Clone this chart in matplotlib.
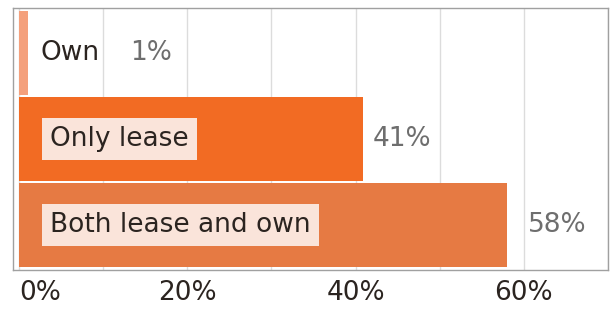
import matplotlib
matplotlib.use("Agg")
import matplotlib.pyplot as plt

# Data
categories = ["Own", "Only lease", "Both lease and own"]
shares = [1.07, 40.9, 58.0]
value_labels = ["1%", "41%", "58%"]
tick_values = [0, 10, 20, 30, 40, 50, 60, 70]
tick_labels = ["0%", "", "20%", "", "40%", "", "60%", ""]

BAR_COLORS = ["#F4A07C", "#F26B23", "#E67A43"]
LABEL_BG = "#FAE4DA"
TEXT = "#2b2420"
GREY = "#6e6e6e"
FS = 19

fig = plt.figure(figsize=(6.1, 3.1), dpi=100)
ax = fig.add_axes([13 / 610, 40 / 310, 595 / 610, 262 / 310])

y = list(range(len(categories)))
ax.barh(y, shares, height=0.97, color=BAR_COLORS, zorder=2)

ax.set_xlim(-0.71, 70.0)
ax.set_ylim(2.52, -0.52)
ax.set_yticks([])
ax.set_xticks(tick_values)
ax.set_xticklabels(tick_labels, fontsize=FS, color=TEXT)
ax.tick_params(axis="x", length=0, pad=7)
ax.get_xticklabels()[0].set_horizontalalignment("left")
ax.grid(axis="x", color="#dcdcdc", linewidth=1, zorder=0)
ax.set_axisbelow(True)
for s in ax.spines.values():
    s.set_color("#a0a0a0")
    s.set_linewidth(1)

# category labels inside bars
for i, cat in enumerate(categories):
    if i == 0:
        ax.text(2.5, i, cat, va="center", ha="left", fontsize=FS, color=TEXT, zorder=3)
    else:
        ax.text(3.7, i, cat, va="center", ha="left", fontsize=FS, color=TEXT, zorder=3,
                bbox=dict(boxstyle="square,pad=0.3", facecolor=LABEL_BG, edgecolor="none"))

# value labels
offsets = [None, 10, 21]
for i, (v, lab) in enumerate(zip(shares, value_labels)):
    if offsets[i] is None:
        ax.text(13.2, i, lab, va="center", ha="left", fontsize=FS, color=GREY, zorder=3)
    else:
        ax.annotate(lab, xy=(v, i), xytext=(offsets[i], 0), textcoords="offset pixels",
                    va="center", ha="left", fontsize=FS, color=GREY, zorder=3)

fig.savefig("out.png", dpi=100)
